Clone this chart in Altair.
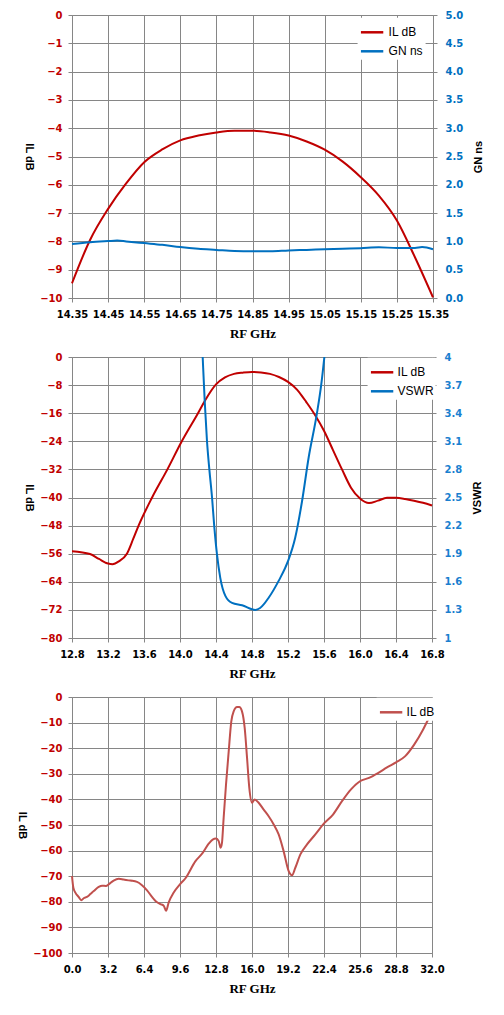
import altair as alt
import pandas as pd

# ---------------- data ----------------
# Chart 1: narrow band IL and group delay
f1 = [14.35, 14.40, 14.45, 14.50, 14.55, 14.60, 14.65, 14.70, 14.75, 14.80, 14.85,
      14.90, 14.95, 15.00, 15.05, 15.10, 15.15, 15.20, 15.25, 15.30, 15.35]
il1 = [-9.48, -7.95, -6.85, -5.95, -5.20, -4.75, -4.43, -4.26, -4.15, -4.09, -4.09,
       -4.15, -4.26, -4.47, -4.76, -5.18, -5.73, -6.38, -7.26, -8.56, -9.98]
fg1 = [14.35, 14.40, 14.45, 14.475, 14.50, 14.55, 14.60, 14.65, 14.70, 14.75, 14.80,
       14.85, 14.90, 14.95, 15.00, 15.05, 15.10, 15.15, 15.20, 15.25, 15.30, 15.32, 15.35]
gn1 = [0.955, 0.985, 1.005, 1.014, 1.0, 0.97, 0.94, 0.90, 0.87, 0.85, 0.83,
       0.825, 0.825, 0.84, 0.85, 0.86, 0.87, 0.88, 0.895, 0.885, 0.885, 0.90, 0.86]

# Chart 2: wider band IL and VSWR
f2 = [12.8, 13.0, 13.1, 13.2, 13.25, 13.32, 13.41, 13.48, 13.54, 13.69, 13.86, 14.02,
      14.2, 14.28, 14.4, 14.5, 14.6, 14.7, 14.8, 14.9, 15.0, 15.1, 15.2, 15.3, 15.35,
      15.4, 15.5, 15.6, 15.7, 15.8, 15.9, 16.0, 16.1, 16.2, 16.3, 16.4, 16.5, 16.6,
      16.7, 16.8]
il2 = [-55.3, -56.1, -57.5, -58.8, -59.0, -58.2, -56.0, -51.8, -48.0, -40.0, -32.0,
       -24.0, -16.0, -12.3, -7.8, -5.8, -4.8, -4.45, -4.27, -4.4, -4.8, -5.7, -7.1,
       -9.3, -10.9, -12.7, -16.5, -21.0, -26.5, -32.0, -37.2, -40.3, -41.6, -40.9,
       -40.1, -40.1, -40.4, -40.9, -41.5, -42.3]
fv2 = [14.245, 14.252, 14.274, 14.30, 14.326, 14.356, 14.38, 14.41, 14.448, 14.504,
       14.578, 14.69, 14.837, 14.89, 14.985, 15.096, 15.2, 15.28, 15.356, 15.43,
       15.52, 15.57, 15.604, 15.615]
vswr2 = [4.15, 4.0, 3.54, 3.1, 2.8, 2.5, 2.2, 1.9, 1.64, 1.45,
         1.375, 1.35, 1.30, 1.32, 1.43, 1.61, 1.82, 2.07, 2.46, 2.93,
         3.39, 3.71, 4.0, 4.1]

# Chart 3: broadband IL
f3 = [0.0, 0.12, 0.3, 0.59, 0.83, 1.04, 1.33, 1.63, 1.93, 2.37, 2.67, 3.02, 3.26,
      3.7, 4.15, 4.59, 5.19, 5.78, 6.22, 6.67, 7.11, 7.47, 7.85, 8.15, 8.36, 8.59,
      9.04, 9.63, 10.07, 10.96, 11.6, 12.15, 12.5, 12.8, 13.04, 13.21, 13.33, 13.48,
      13.69, 13.93, 14.16, 14.37, 14.67, 14.87, 15.11, 15.35, 15.56, 15.76, 16.0,
      16.24, 16.59, 17.04, 17.48, 17.93, 18.37, 18.81, 19.26, 19.56, 19.85, 20.3,
      20.89, 21.63, 22.4, 23.2, 24.0, 24.8, 25.6, 26.4, 27.2, 28.0, 28.8, 29.6,
      30.4, 31.2, 31.6, 32.0]
il3 = [-70.0, -74.5, -76.4, -78.1, -79.4, -78.6, -78.1, -77.0, -75.8, -74.2, -73.7,
       -73.8, -73.2, -71.7, -71.0, -71.3, -71.7, -72.2, -73.5, -75.5, -78.1, -79.9,
       -80.9, -81.5, -83.5, -80.3, -76.4, -73.0, -70.9, -64.2, -61.0, -57.3, -55.7,
       -55.3, -56.3, -58.9, -57.0, -47.2, -34.2, -21.2, -9.5, -5.6, -3.9, -3.9, -5.6,
       -12.1, -23.8, -35.5, -41.3, -40.0, -41.3, -44.0, -46.6, -49.8, -53.7, -60.2,
       -68.0, -69.6, -66.7, -61.5, -57.6, -53.7, -49.4, -45.9, -40.7, -36.1, -32.9,
       -31.6, -29.7, -27.5, -25.5, -23.2, -18.7, -12.8, -9.3, -6.3]

# tick values
x1_ticks = [14.35, 14.45, 14.55, 14.65, 14.75, 14.85, 14.95, 15.05, 15.15, 15.25, 15.35]
y1_ticks = [-10, -9, -8, -7, -6, -5, -4, -3, -2, -1, 0]
g1_ticks = [0.0, 0.5, 1.0, 1.5, 2.0, 2.5, 3.0, 3.5, 4.0, 4.5, 5.0]
x2_ticks = [12.8, 13.2, 13.6, 14.0, 14.4, 14.8, 15.2, 15.6, 16.0, 16.4, 16.8]
y2_ticks = [-80, -72, -64, -56, -48, -40, -32, -24, -16, -8, 0]
v2_ticks = [1, 1.3, 1.6, 1.9, 2.2, 2.5, 2.8, 3.1, 3.4, 3.7, 4]
x3_ticks = [0.0, 3.2, 6.4, 9.6, 12.8, 16.0, 19.2, 22.4, 25.6, 28.8, 32.0]
y3_ticks = [-100, -90, -80, -70, -60, -50, -40, -30, -20, -10, 0]

# ---------------- styling ----------------
GRID = "#868686"
RED = "#C00000"
BLUE = "#0070C0"
RED3 = "#C0504D"
LFONT = "DejaVu Sans"
TFONT = "Liberation Sans"


def x_axis(vals, fmt):
    return alt.Axis(values=vals, format=fmt, title="RF GHz",
                    titleFont="Liberation Serif", titleFontSize=13, titleFontWeight="bold",
                    titleColor="black", titlePadding=8,
                    labelFont=LFONT, labelFontSize=10, labelFontWeight="bold",
                    labelColor="black", labelPadding=7, labelFlush=False,
                    labelOverlap=False, grid=True, gridColor=GRID, domainColor=GRID,
                    tickColor=GRID, tickSize=4)


def y_left(vals, fmt, color=RED):
    return alt.Axis(values=vals, format=fmt, title="IL dB", orient="left",
                    titleFont=TFONT, titleFontSize=11, titleFontWeight="bold",
                    titleColor="black", titleAngle=90, titleBaseline="top",
                    titlePadding=5,
                    labelFont=LFONT, labelFontSize=10, labelFontWeight="bold",
                    labelColor=color, labelPadding=6, labelOverlap=False,
                    grid=True, gridColor=GRID, domainColor=GRID,
                    tickColor=GRID, tickSize=4)


def y_right(vals, fmt, title, color=BLUE):
    return alt.Axis(values=vals, format=fmt, title=title, orient="right",
                    titleFont=TFONT, titleFontSize=11, titleFontWeight="bold",
                    titleColor="black", titleAngle=270, titleBaseline="top",
                    titlePadding=10,
                    labelFont=LFONT, labelFontSize=10, labelFontWeight="bold",
                    labelColor=color, labelPadding=8, labelOverlap=False,
                    grid=False, domainColor=GRID, tickColor=GRID, tickSize=4)


def legend(x, y, offset):
    return alt.Legend(title=None, orient="none", legendX=x, legendY=y,
                      symbolType="stroke", symbolSize=500, symbolStrokeWidth=2.5,
                      labelFont=TFONT, labelFontSize=12, labelColor="black",
                      labelOffset=offset, rowPadding=-6, padding=2, fillColor="white")


# ---------------- chart 1 ----------------
d1a = pd.DataFrame({"f": f1, "v": il1, "s": "IL dB"})
d1b = pd.DataFrame({"f": fg1, "v": gn1, "s": "GN ns"})
c1 = alt.Color("s:N", scale=alt.Scale(domain=["IL dB", "GN ns"], range=[RED, BLUE]),
               legend=legend(285.6, 2.8, 4))
x1 = alt.X("f:Q", scale=alt.Scale(domain=[14.35, 15.35], nice=False, zero=False),
           axis=x_axis(x1_ticks, ".2f"))
ch1a = alt.Chart(d1a).mark_line(strokeWidth=2, interpolate="monotone").encode(
    x=x1, y=alt.Y("v:Q", scale=alt.Scale(domain=[-10, 0], nice=False),
                  axis=y_left(y1_ticks, "d")), color=c1)
ch1b = alt.Chart(d1b).mark_line(strokeWidth=2, interpolate="monotone").encode(
    x=x1, y=alt.Y("v:Q", scale=alt.Scale(domain=[0, 5], nice=False, zero=False),
                  axis=y_right(g1_ticks, ".1f", "GN ns")), color=c1)
top = alt.layer(ch1a, ch1b).resolve_scale(y="independent").properties(width=361, height=283)

# ---------------- chart 2 ----------------
d2a = pd.DataFrame({"f": f2, "v": il2, "s": "IL dB"})
d2b = pd.DataFrame({"f": fv2, "v": vswr2, "s": "VSWR"})
c2 = alt.Color("s:N", scale=alt.Scale(domain=["IL dB", "VSWR"], range=[RED, BLUE]),
               legend=legend(295.6, 0.8, 3))
x2 = alt.X("f:Q", scale=alt.Scale(domain=[12.8, 16.8], nice=False, zero=False),
           axis=x_axis(x2_ticks, ".1f"))
ch2a = alt.Chart(d2a).mark_line(strokeWidth=2, interpolate="monotone").encode(
    x=x2, y=alt.Y("v:Q", scale=alt.Scale(domain=[-80, 0], nice=False),
                  axis=y_left(y2_ticks, "d")), color=c2)
ch2b = alt.Chart(d2b).mark_line(strokeWidth=2, interpolate="monotone", clip=True).encode(
    x=x2, y=alt.Y("v:Q", scale=alt.Scale(domain=[1, 4], nice=False, zero=False),
                  axis=y_right(v2_ticks, ".1~f", "VSWR", "#1A7FCF")), color=c2)
mid = alt.layer(ch2a, ch2b).resolve_scale(y="independent").properties(width=360, height=281)

# ---------------- chart 3 ----------------
d3 = pd.DataFrame({"f": f3, "v": il3, "s": "IL dB"})
c3 = alt.Color("s:N", scale=alt.Scale(domain=["IL dB"], range=[RED3]),
               legend=legend(304.6, 0.8, 3))
bot = alt.Chart(d3).mark_line(strokeWidth=2, interpolate="monotone").encode(
    x=alt.X("f:Q", scale=alt.Scale(domain=[0, 32], nice=False, zero=False),
            axis=x_axis(x3_ticks, ".1f")),
    y=alt.Y("v:Q", scale=alt.Scale(domain=[-100, 0], nice=False),
            axis=y_left(y3_ticks, "d")),
    color=c3).properties(width=360, height=256)

chart = alt.vconcat(top, mid, bot, spacing=10).resolve_scale(color="independent").properties(
    padding={"left": 8, "top": 1, "right": 2, "bottom": 2}
).configure_view(stroke=None).configure(background="white")

chart.save("out.html", embed_options={"renderer": "svg", "actions": False})
